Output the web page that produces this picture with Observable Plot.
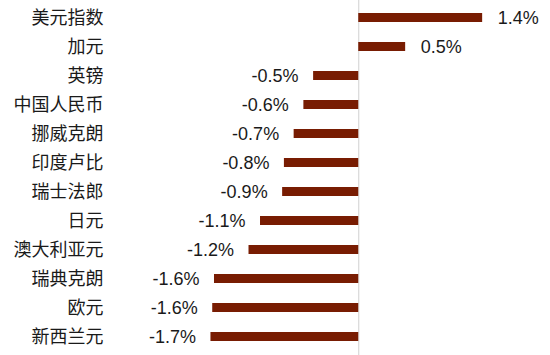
<!DOCTYPE html>
<html>
<head>
<meta charset="utf-8">
<script src="https://cdn.jsdelivr.net/npm/d3@7"></script>
<script src="https://cdn.jsdelivr.net/npm/@observablehq/plot@0.6"></script>
<style>
  html, body { margin: 0; padding: 0; background: #fff; }
</style>
</head>
<body>
<div id="chart"></div>
<script>
const categories = ["美元指数", "加元", "英镑", "中国人民币", "挪威克朗", "印度卢比", "瑞士法郎", "日元", "澳大利亚元", "瑞典克朗", "欧元", "新西兰元"];
const values = [1.40, 0.53, -0.51, -0.62, -0.73, -0.84, -0.86, -1.11, -1.24, -1.63, -1.65, -1.67];
const valueLabels = ["1.4%", "0.5%", "-0.5%", "-0.6%", "-0.7%", "-0.8%", "-0.9%", "-1.1%", "-1.2%", "-1.6%", "-1.6%", "-1.7%"];

const data = categories.map((c, i) => ({cat: c, value: values[i], label: valueLabels[i]}));
const FONT = "'Liberation Sans', 'Noto Sans CJK SC', Arial, sans-serif";

const chart = Plot.plot({
  width: 550,
  height: 355,
  marginLeft: 137,
  marginRight: 32.45,
  marginTop: 8.5,
  marginBottom: 10.5,
  style: {fontFamily: FONT, color: "#1a1a1a", background: "#fff"},
  x: {domain: [-2.5, 1.8], axis: null},
  y: {domain: categories, paddingInner: 0.697, paddingOuter: 0, axis: null},
  marks: [
    Plot.ruleX([0], {stroke: "#d0d0d0", strokeWidth: 1, insetTop: -8.5, insetBottom: -10.5}),
    Plot.barX(data, {x: "value", y: "cat", fill: "#781c02"}),
    Plot.axisY({tickSize: 0, tickPadding: 34, fontSize: 18, label: null, fill: "#1a1a1a"}),
    Plot.text(data.filter(d => d.value >= 0), {x: "value", y: "cat", text: "label", textAnchor: "start", dx: 15, fontSize: 18, fill: "#1a1a1a"}),
    Plot.text(data.filter(d => d.value < 0), {x: "value", y: "cat", text: "label", textAnchor: "end", dx: -15, fontSize: 18, fill: "#1a1a1a"})
  ]
});
document.getElementById("chart").appendChild(chart);
</script>
</body>
</html>
